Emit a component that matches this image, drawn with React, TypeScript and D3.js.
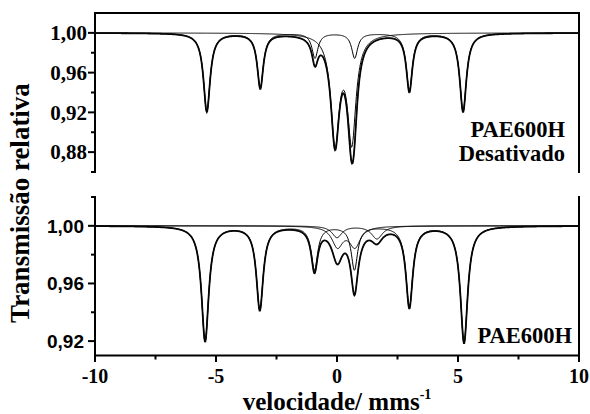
import React from "react";
import * as d3 from "d3";

// ---- Data ----
// Top panel: PAE600H Desativado — sextet + doublet (Lorentzian line parameters, mm/s)
const topSextetPos = [-5.38, -3.17, -0.91, 0.73, 2.99, 5.21];
const topSextetDepth = [0.079, 0.055, 0.025, 0.025, 0.058, 0.079];
const topSextetWidth = [0.33, 0.3, 0.3, 0.3, 0.3, 0.33];
const topDoubletPos = [-0.08, 0.61];
const topDoubletDepth = [0.107, 0.106];
const topDoubletWidth = [0.42, 0.42];

// Bottom panel: PAE600H — sextet + Fe3+ doublet + Fe2+ doublet
const botSextetPos = [-5.45, -3.19, -0.93, 0.72, 2.99, 5.25];
const botSextetDepth = [0.080, 0.058, 0.030, 0.030, 0.056, 0.081];
const botSextetWidth = [0.36, 0.34, 0.32, 0.32, 0.34, 0.36];
const botDoublet1Pos = [0.02, 0.74];
const botDoublet1Depth = [0.014, 0.014];
const botDoublet1Width = [0.55, 0.55];
const botDoublet2Pos = [0.0, 1.65];
const botDoublet2Depth = [0.008, 0.009];
const botDoublet2Width = [0.5, 0.55];

// Axis ticks
const xMajor = [-10, -5, 0, 5, 10];
const xMinor = [-7.5, -2.5, 2.5, 7.5];
const topYMajor = [0.88, 0.92, 0.96, 1.0];
const topYMinor = [0.86, 0.9, 0.94, 0.98];
const botYMajor = [0.92, 0.96, 1.0];
const botYMinor = [0.94, 0.98, 1.02];

// velocity grid
const velocities = d3.range(-10, 10.0001, 0.02);

type Comp = { pos: number[]; depth: number[]; width: number[] };

function absorption(c: Comp, v: number) {
  let s = 0;
  for (let i = 0; i < c.pos.length; i++) {
    const h = c.width[i] / 2;
    const d = v - c.pos[i];
    s += c.depth[i] / (1 + (d * d) / (h * h));
  }
  return s;
}

const W = 590;
const H = 414;
const L = 95;
const R = 579;

const serifStyle = { fontFamily: '"Liberation Serif", "Times New Roman", Times, serif' };
const sansStyle = { fontFamily: '"Liberation Sans", Arial, Helvetica, sans-serif' };

const fmt = (v: number) => d3.format(".2f")(v).replace(".", ",");

export default function App() {
  const x = d3.scaleLinear().domain([-10, 10]).range([L, R]);
  const yTop = d3.scaleLinear().domain([0.86, 1.02]).range([172, 13]);
  const yBot = d3.scaleLinear().domain([0.91, 1.02]).range([355.5, 197]);

  const topComps: Comp[] = [
    { pos: topSextetPos, depth: topSextetDepth, width: topSextetWidth },
    { pos: topDoubletPos, depth: topDoubletDepth, width: topDoubletWidth },
  ];
  const botComps: Comp[] = [
    { pos: botSextetPos, depth: botSextetDepth, width: botSextetWidth },
    { pos: botDoublet1Pos, depth: botDoublet1Depth, width: botDoublet1Width },
    { pos: botDoublet2Pos, depth: botDoublet2Depth, width: botDoublet2Width },
  ];

  const makePaths = (comps: Comp[], y: d3.ScaleLinear<number, number>) => {
    const line = d3
      .line<[number, number]>()
      .x((d) => x(d[0]))
      .y((d) => y(d[1]));
    const compPaths = comps.map((c) =>
      line(velocities.map((v) => [v, 1 - absorption(c, v)] as [number, number]))
    );
    const total = line(
      velocities.map(
        (v) => [v, 1 - comps.reduce((s, c) => s + absorption(c, v), 0)] as [number, number]
      )
    );
    return { compPaths, total };
  };

  const top = makePaths(topComps, yTop);
  const bot = makePaths(botComps, yBot);

  return (
    <svg
      width={W}
      height={H}
      style={{ position: "absolute", left: 0, top: 0, background: "#fff" }}
    >
      <rect x={0} y={0} width={W} height={H} fill="#fff" />

      {/* ---------- Top panel ---------- */}
      <g>
        {top.compPaths.map((p, i) => (
          <path key={i} d={p || ""} fill="none" stroke="#000" strokeWidth={1} />
        ))}
        <path d={top.total || ""} fill="none" stroke="#111" strokeWidth={1.8} />
        <path d={top.total || ""} fill="none" stroke="#000" strokeWidth={0.9} />
        {/* frame */}
        <line x1={L} x2={R} y1={13} y2={13} stroke="#000" strokeWidth={2.2} />
        <line x1={L} x2={L} y1={12} y2={173} stroke="#000" strokeWidth={2} />
        <line x1={R} x2={R} y1={12} y2={173} stroke="#000" strokeWidth={2} />
        {topYMajor.map((t) => (
          <g key={"tM" + t}>
            <line x1={L - 7} x2={L} y1={yTop(t)} y2={yTop(t)} stroke="#000" strokeWidth={2} />
            <text
              x={L - 8}
              y={yTop(t)}
              dy="0.35em"
              textAnchor="end"
              style={serifStyle}
              fontWeight="bold"
              fontSize={21}
            >
              {fmt(t)}
            </text>
          </g>
        ))}
        {topYMinor.map((t) => (
          <line key={"tm" + t} x1={L - 4} x2={L} y1={yTop(t)} y2={yTop(t)} stroke="#000" strokeWidth={2} />
        ))}
        <text x={565} y={137} textAnchor="end" style={serifStyle} fontWeight="bold" fontSize={22.5}>
          PAE600H
        </text>
        <text x={565} y={161} textAnchor="end" style={serifStyle} fontWeight="bold" fontSize={22.5}>
          Desativado
        </text>
      </g>

      {/* ---------- Bottom panel ---------- */}
      <g>
        {bot.compPaths.map((p, i) => (
          <path key={i} d={p || ""} fill="none" stroke="#000" strokeWidth={1} />
        ))}
        <path d={bot.total || ""} fill="none" stroke="#111" strokeWidth={1.8} />
        <path d={bot.total || ""} fill="none" stroke="#000" strokeWidth={0.9} />
        <line x1={L} x2={L} y1={196} y2={356.5} stroke="#000" strokeWidth={2} />
        <line x1={R} x2={R} y1={196} y2={356.5} stroke="#000" strokeWidth={2} />
        <line x1={L - 1} x2={R + 1} y1={355.5} y2={355.5} stroke="#000" strokeWidth={2} />
        {botYMajor.map((t) => (
          <g key={"bM" + t}>
            <line x1={L - 7} x2={L} y1={yBot(t)} y2={yBot(t)} stroke="#000" strokeWidth={2} />
            <text
              x={L - 11}
              y={yBot(t)}
              dy="0.36em"
              textAnchor="end"
              style={sansStyle}
              fontWeight="bold"
              fontSize={19}
            >
              {fmt(t)}
            </text>
          </g>
        ))}
        {botYMinor.map((t) => (
          <line key={"bm" + t} x1={L - 4} x2={L} y1={yBot(t)} y2={yBot(t)} stroke="#000" strokeWidth={2} />
        ))}
        {xMajor.map((t) => (
          <g key={"xM" + t}>
            <line x1={x(t)} x2={x(t)} y1={355.5} y2={362} stroke="#000" strokeWidth={2} />
            <text
              x={x(t)}
              y={383}
              textAnchor="middle"
              style={serifStyle}
              fontWeight="bold"
              fontSize={20}
            >
              {t}
            </text>
          </g>
        ))}
        {xMinor.map((t) => (
          <line key={"xm" + t} x1={x(t)} x2={x(t)} y1={355.5} y2={359.5} stroke="#000" strokeWidth={2} />
        ))}
        <text x={572} y={343} textAnchor="end" style={serifStyle} fontWeight="bold" fontSize={22.5}>
          PAE600H
        </text>
      </g>

      {/* ---------- Axis titles ---------- */}
      <text
        x={337}
        y={409.5}
        textAnchor="middle"
        style={serifStyle}
        fontWeight="bold"
        fontSize={25}
      >
        velocidade/ mms
        <tspan dy={-11} fontSize={14}>
          -1
        </tspan>
      </text>
      <text
        transform={`translate(29, 203) rotate(-90)`}
        textAnchor="middle"
        style={serifStyle}
        fontWeight="bold"
        fontSize={27}
      >
        Transmissão relativa
      </text>
    </svg>
  );
}
